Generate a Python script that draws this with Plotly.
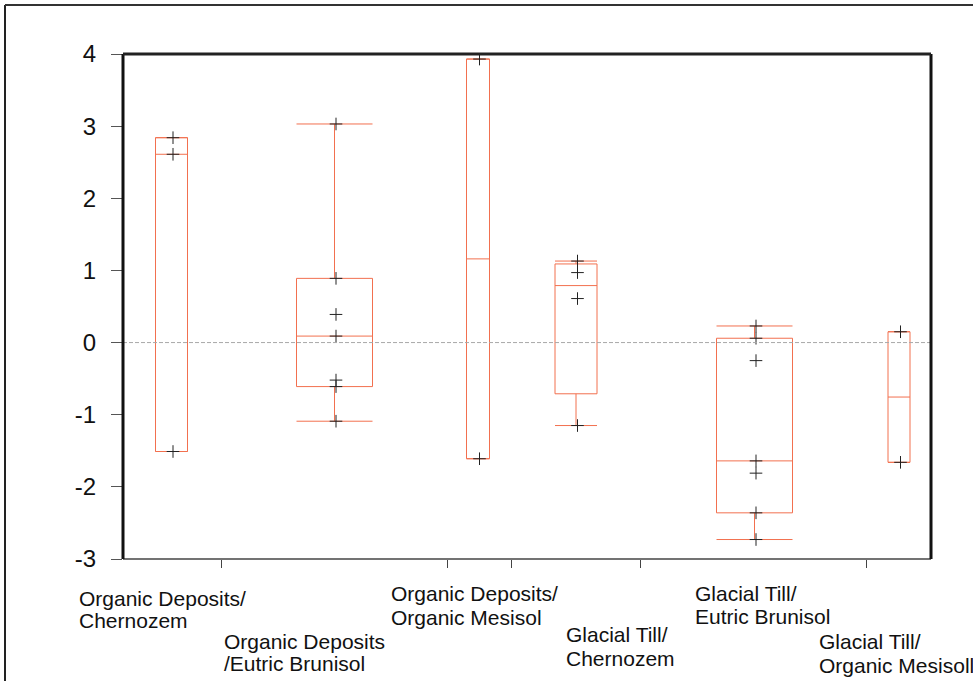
import plotly.graph_objects as go

# ---------------- data ----------------
labels = [
    ["Organic Deposits/", "Chernozem"],
    ["Organic Deposits", "/Eutric Brunisol"],
    ["Organic Deposits/", "Organic Mesisol"],
    ["Glacial Till/", "Chernozem"],
    ["Glacial Till/", "Eutric Brunisol"],
    ["Glacial Till/", "Organic Mesisoll"],
]
od_chernozem = [2.84, 2.61, -1.51]
od_eutric = [3.03, 0.89, 0.39, 0.09, -0.52, -0.61, -1.09]
od_mesisol = [3.93, -1.61]
gt_chernozem = [1.13, 0.97, 0.61, -1.15]
gt_eutric = [0.23, 0.06, -0.25, -1.64, -1.81, -2.36, -2.73]
gt_mesisol = [0.15, -1.66]
series = [od_chernozem, od_eutric, od_mesisol, gt_chernozem, gt_eutric, gt_mesisol]
y_ticks = [-3, -2, -1, 0, 1, 2, 3, 4]
y_tick_text = ["-3", "-2", "-1", "0", "1", "2", "3", "4"]

# ---------------- layout constants (pixel-like x units) ----------------
box_pos = [48.5, 211.5, 355, 453, 631.5, 776]
box_width = [32, 76, 23, 42, 76, 22]
x_tick_pos = [98, 324, 388, 517, 743]
label_px = [(78, 590, 612), (223, 633, 655), (390, 585, 609),
            (565, 626, 650), (694, 585, 608), (818, 633, 657)]

W, H = 973, 681
ML, MR, MT, MB = 123, 42, 54, 122
PW, PH = W - ML - MR, H - MT - MB

def px_x(px):
    return (px - ML) / PW

def px_y(py):
    return (H - MB - py) / PH

def quant(vals, p):
    s = sorted(vals)
    n = len(s)
    h = (n + 1) * p
    if h <= 1:
        return s[0]
    if h >= n:
        return s[-1]
    lo = int(h)
    return s[lo - 1] + (h - lo) * (s[lo] - s[lo - 1])

BOX_COLOR = "#F2704F"
FONT = "Liberation Sans, Arial, sans-serif"

fig = go.Figure()
for vals, pos, wd in zip(series, box_pos, box_width):
    fig.add_trace(go.Box(
        x=[pos], q1=[quant(vals, 0.25)], median=[quant(vals, 0.5)],
        q3=[quant(vals, 0.75)], lowerfence=[min(vals)], upperfence=[max(vals)],
        width=wd, whiskerwidth=1, boxpoints=False,
        line=dict(color=BOX_COLOR, width=1), fillcolor="rgba(0,0,0,0)",
        showlegend=False, hoverinfo="skip",
    ))
    fig.add_trace(go.Scatter(
        x=[pos + 1.5] * len(vals), y=vals, mode="markers",
        marker=dict(symbol="cross-thin", size=9, color="#222",
                    line=dict(color="#222", width=1)),
        showlegend=False, hoverinfo="skip",
    ))

shapes = [
    # zero reference line
    dict(type="line", xref="paper", yref="y", x0=0, x1=1, y0=0, y1=0,
         line=dict(color="#a8a8a8", width=1, dash="4px,2px")),
    # axis frame
    dict(type="line", xref="paper", yref="paper", x0=0, x1=1, y0=0, y1=0,
         line=dict(color="#444", width=1.5)),
    dict(type="line", xref="paper", yref="paper", x0=0, x1=0, y0=0, y1=1,
         line=dict(color="#111", width=3)),
    dict(type="line", xref="paper", yref="paper", x0=1, x1=1, y0=0, y1=1,
         line=dict(color="#111", width=3)),
    dict(type="line", xref="paper", yref="paper", x0=0, x1=1, y0=1, y1=1,
         line=dict(color="#222", width=3)),
    # outer scan frame (left and top)
    dict(type="line", xref="paper", yref="paper", x0=px_x(5), x1=px_x(5),
         y0=px_y(5), y1=px_y(H + 5), line=dict(color="#222", width=2)),
    dict(type="line", xref="paper", yref="paper", x0=px_x(5), x1=px_x(W + 5),
         y0=px_y(5), y1=px_y(5), line=dict(color="#333", width=2)),
]

annotations = []
for (lx, y1, y2), lines in zip(label_px, labels):
    for text, cy in zip(lines, (y1, y2)):
        annotations.append(dict(
            xref="paper", yref="paper", x=px_x(lx - 1), y=px_y(cy - 5),
            xanchor="left", yanchor="top", text=text, showarrow=False,
            font=dict(family=FONT, size=21, color="#111"),
        ))

fig.update_layout(
    width=W, height=H, margin=dict(l=ML, r=MR, t=MT, b=MB, pad=0),
    paper_bgcolor="white", plot_bgcolor="white",
    shapes=shapes, annotations=annotations,
    xaxis=dict(range=[0, PW], tickvals=x_tick_pos, ticktext=[""] * len(x_tick_pos),
               ticks="outside", ticklen=8, tickwidth=1, tickcolor="#444",
               showgrid=False, zeroline=False, showline=False, fixedrange=True),
    yaxis=dict(range=[-3, 4], tickvals=y_ticks, ticktext=y_tick_text,
               ticks="outside", ticklen=11,
               tickwidth=1, tickcolor="#555", showgrid=False, zeroline=False,
               showline=False, ticklabelstandoff=10,
               tickfont=dict(family=FONT, size=24, color="#111")),
    font=dict(family=FONT),
)

fig.write_html("out.html")
